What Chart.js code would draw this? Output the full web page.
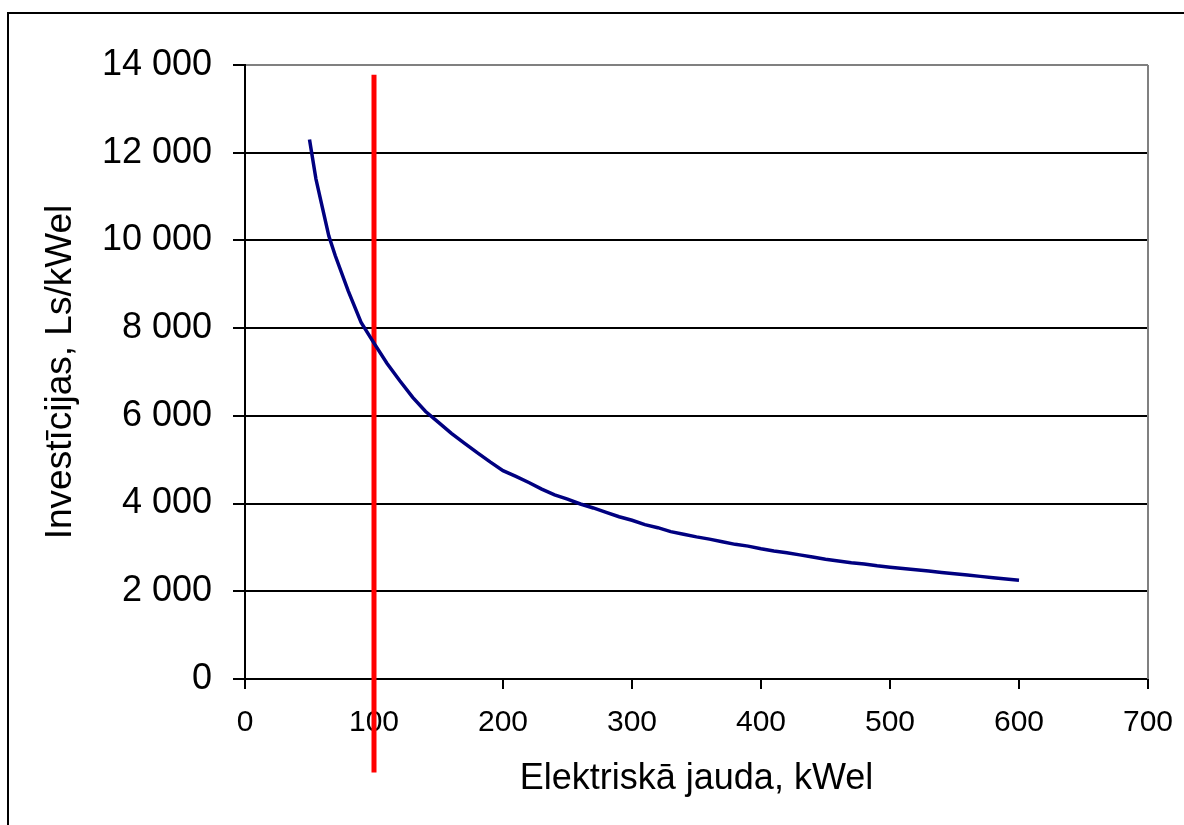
<!DOCTYPE html>
<html>
<head>
<meta charset="utf-8">
<script src="https://cdn.jsdelivr.net/npm/chart.js@4/dist/chart.umd.min.js"></script>
<style>
  body { margin: 0; background: #fff; }
</style>
</head>
<body>
<canvas id="investChart" width="1184" height="825"></canvas>
<script>
// values
const powerKw = [50, 55, 60, 65, 70, 80, 90, 100, 110, 120, 130, 140, 150, 160, 170, 180, 190, 200,
  210, 220, 230, 240, 250, 260, 270, 280, 290, 300, 310, 320, 330, 340, 350, 360, 370, 380, 390, 400,
  410, 420, 430, 440, 450, 460, 470, 480, 490, 500, 510, 520, 530, 540, 550, 560, 570, 580, 590, 600];
const investment = [12300, 11400, 10750, 10100, 9650, 8850, 8130, 7660, 7200, 6800, 6420, 6100, 5850, 5600, 5380, 5160, 4950, 4750,
  4620, 4480, 4330, 4200, 4100, 3990, 3900, 3800, 3700, 3620, 3520, 3450, 3360, 3300, 3240, 3190, 3130, 3070, 3030, 2970,
  2920, 2880, 2830, 2780, 2730, 2690, 2650, 2620, 2580, 2550, 2520, 2490, 2460, 2430, 2400, 2370, 2340, 2310, 2280, 2250];
const markerX = [100, 100];
const markerY = [13780, -2130];

const xTitle = 'Elektriskā jauda, kWel';
const yTitle = 'Investīcijas, Ls/kWel';

const fmt = v => String(v).replace(/\B(?=(\d{3})+(?!\d))/g, ' ');

const framePlugin = {
  id: 'frame',
  afterDraw(chart) {
    const { ctx, chartArea } = chart;
    ctx.save();
    // right border of the plot
    ctx.strokeStyle = '#808080';
    ctx.lineWidth = 2;
    ctx.beginPath();
    ctx.moveTo(chartArea.right, chartArea.top);
    ctx.lineTo(chartArea.right, chartArea.bottom);
    ctx.stroke();
    // outer frame
    ctx.strokeStyle = '#000';
    ctx.lineWidth = 2;
    ctx.strokeRect(8, 13, 1300, 1000);
    ctx.restore();
  }
};

new Chart(document.getElementById('investChart'), {
  type: 'scatter',
  data: {
    datasets: [
      {
        data: powerKw.map((x, i) => ({ x: x, y: investment[i] })),
        showLine: true,
        borderColor: '#000080',
        borderWidth: 3.5,
        pointRadius: 0,
        tension: 0
      },
      {
        data: markerX.map((x, i) => ({ x: x, y: markerY[i] })),
        showLine: true,
        borderColor: '#ff0000',
        borderWidth: 5,
        pointRadius: 0,
        clip: false
      }
    ]
  },
  options: {
    responsive: false,
    animation: false,
    layout: { padding: { top: 65, right: 36, left: 0, bottom: 0 } },
    plugins: {
      legend: { display: false },
      tooltip: { enabled: false }
    },
    scales: {
      x: {
        type: 'linear',
        min: 0,
        max: 700,
        afterFit: s => {
          s.height = 146;
          s.paddingLeft = 0;
          s.paddingRight = 0;
        },
        ticks: {
          stepSize: 100,
          color: '#000',
          padding: 16,
          font: { family: 'Liberation Sans, Arial', size: 30 }
        },
        grid: {
          drawOnChartArea: false,
          tickLength: 10,
          tickColor: '#000',
          lineWidth: 2
        },
        border: { color: '#000', width: 2 },
        title: {
          display: true,
          text: xTitle,
          color: '#000',
          font: { family: 'Liberation Sans, Arial', size: 36 },
          padding: { bottom: 24, top: 0 }
        }
      },
      y: {
        min: 0,
        max: 14000,
        afterFit: s => { s.width = 245; },
        ticks: {
          stepSize: 2000,
          color: '#000',
          padding: 21,
          callback: v => fmt(v),
          font: { family: 'Liberation Sans, Arial', size: 36 }
        },
        grid: {
          color: c => (c.tick && c.tick.value === 14000 ? '#808080' : '#000'),
          tickColor: '#000',
          tickLength: 12,
          lineWidth: 2
        },
        border: { color: '#000', width: 2 },
        title: {
          display: true,
          text: yTitle,
          color: '#000',
          font: { family: 'Liberation Sans, Arial', size: 37 },
          padding: { top: 39, bottom: 0 }
        }
      }
    }
  },
  plugins: [framePlugin]
});
</script>
</body>
</html>
